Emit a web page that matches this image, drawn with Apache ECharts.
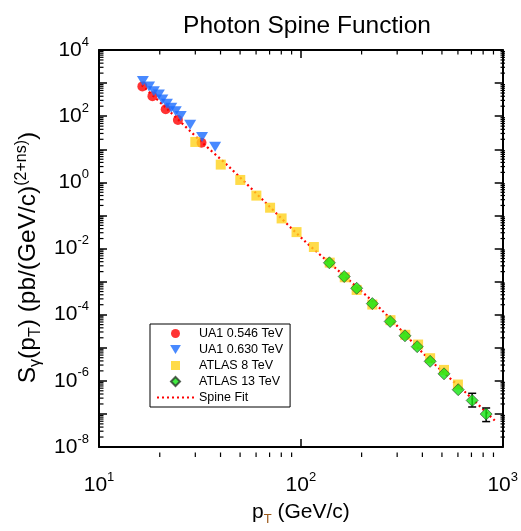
<!DOCTYPE html>
<html><head><meta charset="utf-8">
<script src="https://cdn.jsdelivr.net/npm/echarts@6/dist/echarts.min.js"></script>
<style>html,body{margin:0;padding:0;background:#fff}#c{width:521px;height:531px}</style>
</head><body><div id="c"></div>
<script>
// UA1 0.546 TeV
const ua546_pt = [16.4, 18.4, 21.4, 24.6, 32.2];
const ua546_s  = [795, 403, 162, 76.9, 15.8];
// UA1 0.630 TeV
const ua630_pt = [16.5, 17.7, 18.7, 19.8, 20.6, 21.7, 22.8, 24.0, 25.4, 28.3, 32.4, 37.6];
const ua630_s  = [1160, 795, 566, 450, 320, 239, 179, 142, 101, 54.8, 23.3, 11.8];
// ATLAS 8 TeV
const atlas8_pt = [30.0, 40.1, 50.1, 60.2, 70.4, 80.3, 95.2, 116, 139, 165, 189, 226, 278, 329, 381, 437, 512, 600];
const atlas8_s  = [16.6, 3.44, 1.18, 0.397, 0.171, 0.0811, 0.0313, 0.0111, 0.00374, 0.00135, 5.6e-4, 2.02e-4, 6.82e-5, 2.46e-5, 1.25e-5, 4.83e-6, 2.14e-6, 7.73e-7];
// ATLAS 13 TeV
const atlas13_pt = [138.5, 164, 189, 226, 277, 328, 377, 437, 512, 602, 706, 828];
const atlas13_s  = [0.0037, 1.42e-3, 6.28e-4, 2.16e-4, 6.24e-5, 2.30e-5, 1.08e-5, 3.89e-6, 1.63e-6, 5.40e-7, 2.55e-7, 9.9e-8];
// visible ATLAS 13 TeV error bars (pT, low, high)
const err13_pt   = [706, 828];
const err13_low  = [1.62e-7, 5.86e-8];
const err13_high = [4.2e-7, 1.51e-7];
// Spine fit
const fit_pt = [16.3, 21.4, 32.5, 44.2, 67.0, 105.5, 151, 247, 411.5, 659, 924];
const fit_s  = [868, 182, 15.8, 2.90, 0.240, 0.0159, 2.33e-3, 1.54e-4, 6.04e-6, 4.28e-7, 5.86e-8];
// axis ticks
const xTickExps = [1, 2, 3];
const yLabelExps = [4, 2, 0, -2, -4, -6, -8];

const zip = (a, b) => a.map((v, i) => [v, b[i]]);
const FONT = 'Liberation Sans, Arial, sans-serif';

const chart = echarts.init(document.getElementById('c'), null, {renderer: 'canvas'});
const G = {left: 99, right: 16, top: 50, bottom: 74};

const supRich = {
  b: {fontSize: 21, fontFamily: FONT, color: '#000'},
  s: {fontSize: 13, fontFamily: FONT, color: '#000', padding: [0, 0, 16, 0]}
};
const expFmt = v => {
  const e = Math.round(Math.log10(v));
  return '{b|10}{s|' + e + '}';
};

const ICON_TRI = 'path://M0,0L12,0L6,10Z';
const ICON_RECT = 'path://M0,0L10,0L10,10L0,10Z';
const ICON_DIA = 'path://M5,0L10,5L5,10L0,5Z';

const option = {
  animation: false,
  backgroundColor: '#fff',
  title: {
    text: 'Photon Spine Function', left: 302, top: 9, textAlign: 'center',
    textStyle: {fontFamily: FONT, fontSize: 24.5, fontWeight: 'normal', color: '#000'}
  },
  legend: {
    left: 150, top: 324, orient: 'vertical',
    borderColor: '#000', borderWidth: 1, padding: [3, 7, 3, 6],
    itemWidth: 37, itemHeight: 9, itemGap: 3,
    symbolKeepAspect: true,
    textStyle: {fontFamily: FONT, fontSize: 12.5, color: '#000'},
    data: [
      {name: 'UA1 0.546 TeV', icon: 'circle'},
      {name: 'UA1 0.630 TeV', icon: ICON_TRI},
      {name: 'ATLAS 8 TeV', icon: ICON_RECT},
      {name: 'ATLAS 13 TeV', icon: ICON_DIA},
      {name: 'Spine Fit', itemStyle: {opacity: 0}}
    ]
  },
  grid: {left: G.left, right: G.right, top: G.top, bottom: G.bottom, containLabel: false},
  xAxis: [{
    type: 'log', logBase: 10, min: 10, max: 1000, interval: 1,
    position: 'bottom',
    axisLine: {lineStyle: {color: '#000', width: 2}},
    axisTick: {inside: true, length: 8, lineStyle: {color: '#000', width: 1.5}},
    minorTick: {show: false},
    splitLine: {show: false},
    axisLabel: {margin: 24, formatter: v => xTickExps.includes(Math.round(Math.log10(v))) ? expFmt(v) : '', rich: supRich},
    name: '{n|p}{t|T}{n| (GeV/c)}', nameLocation: 'middle', nameGap: 52,
    nameTextStyle: {rich: {
      n: {fontSize: 21, fontFamily: FONT, color: '#000'},
      t: {fontSize: 13, fontFamily: FONT, color: '#9c5a1a', padding: [14, 0, 0, 0]}
    }}
  }, {
    type: 'log', logBase: 10, min: 10, max: 1000, interval: 1,
    position: 'top',
    axisLine: {lineStyle: {color: '#000', width: 2}},
    axisTick: {inside: true, length: 8, lineStyle: {color: '#000', width: 1.5}},
    axisLabel: {show: false}, splitLine: {show: false}
  }],
  yAxis: [{
    type: 'log', logBase: 10, min: 1e-8, max: 1e4, interval: 1,
    position: 'left',
    axisLine: {lineStyle: {color: '#000', width: 2}},
    axisTick: {inside: true, length: 8, lineStyle: {color: '#000', width: 1.5}},
    splitLine: {show: false},
    axisLabel: {margin: 10, formatter: v => yLabelExps.includes(Math.round(Math.log10(v))) ? expFmt(v) : '', rich: supRich},
    name: '{n|S}{g|γ}{n|(p}{g|T}{n|) (pb/(GeV/c)}{u|(2+ns)}{n|)}',
    nameLocation: 'middle', nameRotate: 90, nameGap: 52,
    nameTextStyle: {padding: [0, 18, 0, 0], rich: {
      n: {fontSize: 24.5, fontFamily: FONT, color: '#000'},
      g: {fontSize: 16, fontFamily: FONT, color: '#000', padding: [13, 0, 0, 0]},
      u: {fontSize: 16, fontFamily: FONT, color: '#000', padding: [0, 0, 15, 0]}
    }}
  }, {
    type: 'log', logBase: 10, min: 1e-8, max: 1e4, interval: 1,
    position: 'right',
    axisLine: {lineStyle: {color: '#000', width: 2}},
    axisTick: {inside: true, length: 8, lineStyle: {color: '#000', width: 1.5}},
    axisLabel: {show: false}, splitLine: {show: false}
  }],
  series: [
    {name: 'Spine Fit', type: 'line', data: zip(fit_pt, fit_s), symbol: 'none', smooth: 0.3, z: 1,
     itemStyle: {color: '#ff0000', opacity: 0},
     lineStyle: {color: '#ff0000', width: 2.2, type: [2, 3]}},
    {name: 'UA1 0.546 TeV', type: 'scatter', data: zip(ua546_pt, ua546_s), symbol: 'circle', symbolSize: 10, z: 2,
     itemStyle: {color: '#ff0000'}},
    {name: 'UA1 0.630 TeV', type: 'scatter', data: zip(ua630_pt, ua630_s), symbol: 'triangle', symbolRotate: 180, symbolSize: [12, 10], z: 3,
     itemStyle: {color: '#1a6cff'}},
    {name: 'ATLAS 8 TeV', type: 'scatter', data: zip(atlas8_pt, atlas8_s), symbol: 'rect', symbolSize: 10, z: 4,
     itemStyle: {color: '#ffd21c'}},
    {name: 'err13', type: 'custom', z: 4, silent: true,
     data: err13_pt.map((p, i) => [p, err13_low[i], err13_high[i]]),
     renderItem: (params, api) => {
       const lo = api.coord([api.value(0), api.value(1)]);
       const hi = api.coord([api.value(0), api.value(2)]);
       const w = 4, st = {stroke: '#000', lineWidth: 1.5};
       return {type: 'group', children: [
         {type: 'line', shape: {x1: lo[0], y1: lo[1], x2: hi[0], y2: hi[1]}, style: st},
         {type: 'line', shape: {x1: lo[0] - w, y1: lo[1], x2: lo[0] + w, y2: lo[1]}, style: st},
         {type: 'line', shape: {x1: hi[0] - w, y1: hi[1], x2: hi[0] + w, y2: hi[1]}, style: st}
       ]};
     }},
    {name: 'ATLAS 13 TeV', type: 'scatter', data: zip(atlas13_pt, atlas13_s), symbol: 'diamond', symbolSize: 12, z: 5,
     itemStyle: {color: '#11e611', borderColor: '#2a3a2a', borderWidth: 0.8}}
  ]
};
chart.setOption(option);

// minor log ticks (2..9 per decade), placed through the axes' own scales
function minorTicks() {
  const els = [];
  const top = G.top, bottom = 531 - G.bottom, left = G.left, right = 521 - G.right;
  const L = 4.5;
  for (let k = 1; k < 3; k++) {
    for (let m = 2; m <= 9; m++) {
      const x = chart.convertToPixel({xAxisIndex: 0}, m * Math.pow(10, k));
      els.push({type: 'line', shape: {x1: x, y1: bottom, x2: x, y2: bottom - L}, style: {stroke: '#000', lineWidth: 1.2}, silent: true});
      els.push({type: 'line', shape: {x1: x, y1: top, x2: x, y2: top + L}, style: {stroke: '#000', lineWidth: 1.2}, silent: true});
    }
  }
  for (let k = -8; k < 4; k++) {
    for (let m = 2; m <= 9; m++) {
      const y = chart.convertToPixel({yAxisIndex: 0}, m * Math.pow(10, k));
      els.push({type: 'line', shape: {x1: left, y1: y, x2: left + L, y2: y}, style: {stroke: '#000', lineWidth: 1.2}, silent: true});
      els.push({type: 'line', shape: {x1: right, y1: y, x2: right - L, y2: y}, style: {stroke: '#000', lineWidth: 1.2}, silent: true});
    }
  }
  chart.setOption({graphic: els});
}
minorTicks();
</script></body></html>
